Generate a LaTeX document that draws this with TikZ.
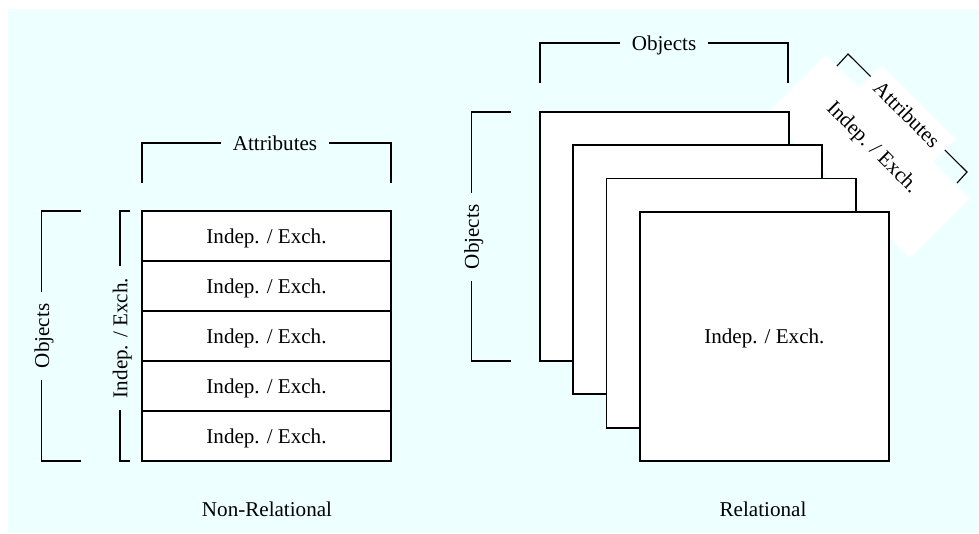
\documentclass[tikz,border=0pt]{standalone}
\usepackage{fontspec}
\setmainfont{Liberation Serif}
\usepackage{tikz}
\usetikzlibrary{calc}
\usepackage{xcolor}
\definecolor{paper}{RGB}{238,255,255}
\newcommand{\lblfont}{\fontsize{15}{18}\selectfont}

\begin{document}
\begin{tikzpicture}[x=0.025cm, y=-0.025cm]
	    \tikzstyle{cell}=[draw, line width=1.2pt, fill=white, minimum width=6.225cm, minimum height=1.25cm, inner sep=0pt, text depth=0pt, font=\lblfont]
	    \tikzstyle{sheet}=[draw, line width=1.3pt, fill=white, minimum size=6.225cm, inner sep=0pt, text depth=0pt, font=\lblfont]
	    \tikzstyle{bracket}=[draw, line width=1pt, black]
	    \tikzstyle{lbl}=[inner xsep=8.5pt, inner ysep=0pt, text depth=0pt, font=\lblfont]
	    \tikzstyle{diag}=[rotate=-45, fill=white, inner sep=0pt, font=\lblfont]
	    \useasboundingbox (0,0) rectangle (979,533);
	    \fill[paper] (8,9) rectangle (979,533);
	    % non-relational table
	    \node[cell] (r1) at (266.5,236) {Indep. / Exch.};
	    \node[cell] (r2) at (266.5,286) {Indep. / Exch.};
	    \node[cell] (r3) at (266.5,336) {Indep. / Exch.};
	    \node[cell] (r4) at (266.5,386) {Indep. / Exch.};
	    \node[cell] (r5) at (266.5,436) {Indep. / Exch.};
	    \coordinate (aL) at (142,183);
	    \coordinate (aR) at (391,183);
	    \node[lbl] (attr) at (275,143) {Attributes};
	    \draw[bracket] (aL) |- (attr);
	    \draw[bracket] (attr) -| (aR);
	    \coordinate (iT) at (130,211);
	    \coordinate (iB) at (130,461);
	    \node[lbl, rotate=90] (indep) at (120,338) {Indep. / Exch.};
	    \draw[bracket] (iT) -| (indep);
	    \draw[bracket] (iB) -| (indep);
	    \coordinate (oT) at (81,211);
	    \coordinate (oB) at (81,461);
	    \node[lbl, rotate=90] (obj) at (41.7,336) {Objects};
	    \draw[bracket] (oT) -| (obj);
	    \draw[bracket] (oB) -| (obj);
	    \node[lbl] (nrel) at (267,509) {Non-Relational};
	    % relational stack
	    \node[diag, minimum width=5.075cm, minimum height=2.1cm] (ibox) at (868,156.5) {};
	    \node[sheet] (s1) at (664.5,236.5) {};
	    \node[sheet] (s2) at (697.8,269.8) {};
	    \node[sheet] (s3) at (731.1,303.1) {};
	    \node[sheet] (s4) at (764.4,336.4) {Indep. / Exch.};
	    \node[diag, fill=none] (ilbl) at (872,148) {Indep. / Exch.};
	    \coordinate (tL) at (540,83);
	    \coordinate (tR) at (788,83);
	    \node[lbl] (tobj) at (664,43) {Objects};
	    \draw[bracket] (tL) |- (tobj);
	    \draw[bracket] (tobj) -| (tR);
	    \coordinate (lT) at (511,112);
	    \coordinate (lB) at (511,361);
	    \node[lbl, rotate=90] (lobj) at (471.5,237) {Objects};
	    \draw[bracket] (lT) -| (lobj);
	    \draw[bracket] (lB) -| (lobj);
	    \coordinate (d1) at (837,66);
	    \coordinate (d2) at (848,54);
	    \coordinate (d3) at (967,172);
	    \coordinate (d4) at (957,183);
	    \draw[bracket, line width=0.8pt] (d1) -- (d2) -- (d3) -- (d4);
	    \node[diag, minimum width=2.6cm, minimum height=0.825cm] (attr2) at (907,114) {Attributes};
	    \node[lbl] (rel) at (763,509) {Relational};
	\end{tikzpicture}
\end{document}
